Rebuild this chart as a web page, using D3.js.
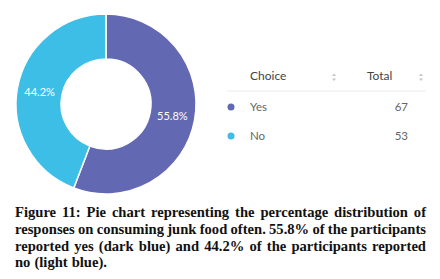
<!DOCTYPE html>
<html>
<head>
    <script src="https://d3js.org/d3.v7.min.js"></script>
    <style>
        body { margin: 0; background: #fff; }
        .lbl { font-family: Lato, sans-serif; font-size: 11px; fill: #fff; }
        .hdr { font-family: Lato, sans-serif; font-size: 12px; fill: #444; }
        .row { font-family: Lato, sans-serif; font-size: 11.5px; fill: #666; }
        .cap { font-family: "Liberation Serif", serif; font-weight: bold; font-size: 14.6px; fill: #111; }
    </style>
</head>
<body>
    <div id="chart"></div>
    <script>
        var choices = ["Yes", "No"];
        var totals = [67, 53];
        var percents = ["55.8%", "44.2%"];
        var colors = ["#6368b2", "#3dbee6"];
        var captionLines = [
            "Figure 11: Pie chart representing the percentage distribution of",
            "responses on consuming junk food often. 55.8% of the participants",
            "reported yes (dark blue) and 44.2% of the participants reported",
            "no (light blue)."
        ];

        var svg = d3.select("#chart")
            .append("svg")
            .attr("width", 440)
            .attr("height", 279);

        // donut
        var pie = d3.pie().sort(null).value(function (d) { return d; });
        var arc = d3.arc().innerRadius(45).outerRadius(90);
        var arcs = pie(totals);

        var g = svg.append("g").attr("transform", "translate(106,104)");
        g.selectAll("path")
            .data(arcs)
            .enter()
            .append("path")
            .attr("d", arc)
            .attr("fill", function (d, i) { return colors[i]; })
            .attr("stroke", "#fff")
            .attr("stroke-width", 1.5);

        g.selectAll("text")
            .data(arcs)
            .enter()
            .append("text")
            .attr("class", "lbl")
            .attr("text-anchor", "middle")
            .attr("dy", "0.35em")
            .attr("transform", function (d) { return "translate(" + arc.centroid(d) + ")"; })
            .text(function (d, i) { return percents[i]; });

        // table legend
        var y = d3.scalePoint().domain(choices).range([107, 136]);
        var legend = svg.append("g");
        legend.append("text").attr("class", "hdr").attr("x", 250).attr("y", 80).text("Choice");
        legend.append("text").attr("class", "hdr").attr("x", 367).attr("y", 80).text("Total");

        function sortIcon(x) {
            legend.append("path")
                .attr("d", "M" + (x - 2) + ",76 L" + x + ",73.5 L" + (x + 2) + ",76 Z M" + (x - 2) + ",78.5 L" + x + ",81 L" + (x + 2) + ",78.5 Z")
                .attr("fill", "#c4c4c4");
        }
        sortIcon(334);
        sortIcon(421);

        legend.append("line")
            .attr("x1", 227).attr("x2", 426)
            .attr("y1", 91).attr("y2", 91)
            .attr("stroke", "#ececec");

        var rows = legend.selectAll(".r")
            .data(choices)
            .enter()
            .append("g")
            .attr("class", "r")
            .attr("transform", function (d) { return "translate(0," + y(d) + ")"; });
        rows.append("circle")
            .attr("cx", 231).attr("cy", 0).attr("r", 3.5)
            .attr("fill", function (d, i) { return colors[i]; });
        rows.append("text")
            .attr("class", "row").attr("x", 250).attr("dy", "0.35em")
            .text(function (d) { return d; });
        rows.append("text")
            .attr("class", "row").attr("x", 408).attr("dy", "0.35em")
            .attr("text-anchor", "end")
            .text(function (d, i) { return totals[i]; });

        // caption, justified word by word
        var left = 15, right = 426;
        captionLines.forEach(function (line, li) {
            var words = line.split(" ");
            var ty = 217 + li * 16.8;
            var nodes = words.map(function (w) {
                return svg.append("text").attr("class", "cap").attr("y", ty).text(w);
            });
            var widths = nodes.map(function (n) { return n.node().getComputedTextLength(); });
            var total = d3.sum(widths);
            var gap = li < captionLines.length - 1 ? (right - left - total) / (words.length - 1) : 4;
            var x = left;
            nodes.forEach(function (n, i) {
                n.attr("x", x);
                x += widths[i] + gap;
            });
        });
    </script>
</body>
</html>
